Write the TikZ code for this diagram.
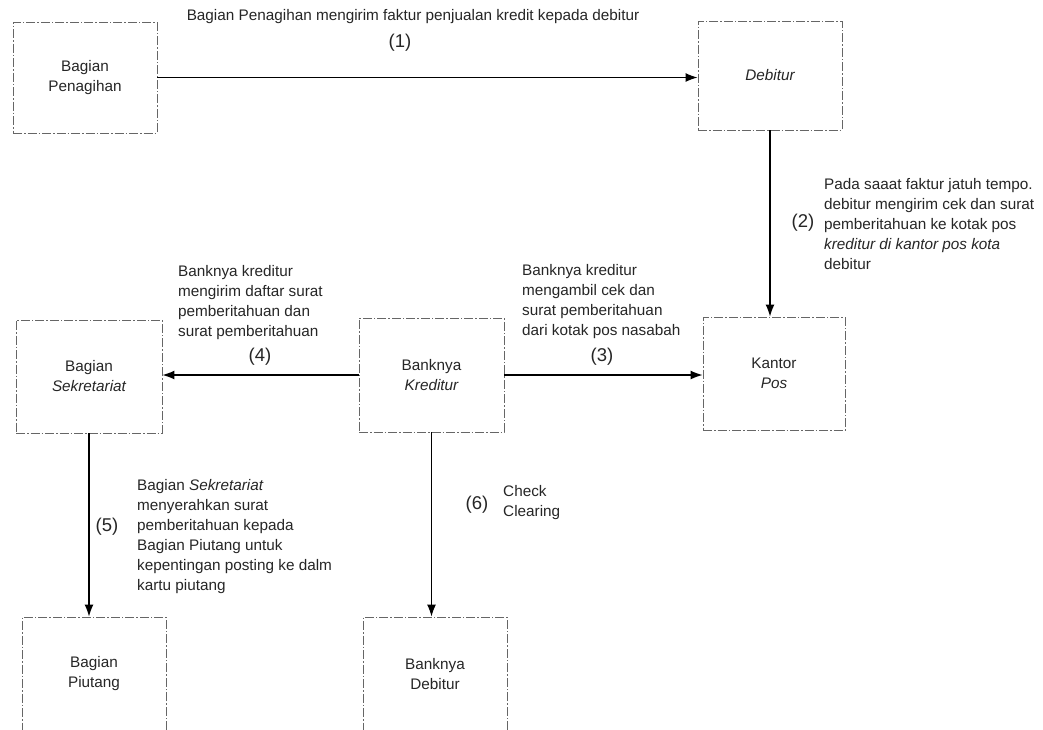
\documentclass[tikz,border=0pt]{standalone}
\usepackage{fontspec}
\setmainfont{Liberation Sans}
\usetikzlibrary{arrows.meta}
\begin{document}
\begin{tikzpicture}[x=1pt,y=-1pt,
  box/.style={draw=black!60, line width=0.8pt,
    dash pattern=on 9pt off 2pt on 1.5pt off 2pt,
    align=center, inner sep=0pt, text=black!85,
    font=\fontsize{15.3}{20}\selectfont},
  flow/.style={draw=black, line width=1.4pt,
    -{Latex[length=12pt,width=9pt]}},
  note/.style={align=left, inner sep=0pt, text=black!85,
    font=\fontsize{15.3}{20}\selectfont},
  num/.style={inner sep=0pt, text=black!85,
    font=\fontsize{18.5}{22}\selectfont}]
\clip (0,0) rectangle (1043,729);
\fill[white] (0,0) rectangle (1043,729);

% boxes
\node[box, minimum width=144, minimum height=111] (pen) at (85,77.5) {Bagian\\Penagihan};
\node[box, minimum width=144, minimum height=109] (deb) at (770,75.5) {\itshape Debitur};
\node[box, minimum width=142, minimum height=113] (kp) at (774,373.5) {Kantor\\\itshape Pos};
\node[box, minimum width=146, minimum height=113] (sek) at (89,376.5) {Bagian\\\itshape Sekretariat};
\node[box, minimum width=145, minimum height=114] (bk) at (431.5,375) {Banknya\\\itshape Kreditur};
\node[box, minimum width=144, minimum height=114] (piu) at (94,674) {Bagian\\Piutang};
\node[box, minimum width=144, minimum height=114] (bd) at (435,674) {Banknya\\Debitur};

% flows
\draw[flow] (pen.east) -- (pen.east -| deb.west);
\draw[flow] (deb.south) -- (deb.south |- kp.north);
\draw[flow] (bk.east) -- (bk.east -| kp.west);
\draw[flow] (bk.west) -- (bk.west -| sek.east);
\draw[flow] (sek.south) -- (sek.south |- piu.north);
\draw[flow] (bk.south) -- (bk.south |- bd.north);

% step labels
\node[note] (t1) at (413,17) {Bagian Penagihan mengirim faktur penjualan kredit kepada debitur};
\node[num] (n1) at (400,43) {(1)};

\node[num] (n2) at (803,223) {(2)};
\node[note, anchor=west] (t2) at (824,224) {Pada saaat faktur jatuh tempo.\\debitur mengirim cek dan surat\\pemberitahuan ke kotak pos\\\textit{kreditur di kantor pos kota}\\debitur};

\node[note, anchor=west] (t4) at (178,303) {Banknya kreditur\\mengirim daftar surat\\pemberitahuan dan\\surat pemberitahuan};
\node[num] (n4) at (260,357) {(4)};

\node[note, anchor=west] (t3) at (522,302) {Banknya kreditur\\mengambil cek dan\\surat pemberitahuan\\dari kotak pos nasabah};
\node[num] (n3) at (602,357) {(3)};

\node[num] (n5) at (107,527) {(5)};
\node[note, anchor=west] (t5) at (137,537) {Bagian \textit{Sekretariat}\\menyerahkan surat\\pemberitahuan kepada\\Bagian Piutang untuk\\kepentingan posting ke dalm\\kartu piutang};

\node[num] (n6) at (477,505) {(6)};
\node[note, anchor=west] (t6) at (503,503) {Check\\Clearing};
\end{tikzpicture}
\end{document}
